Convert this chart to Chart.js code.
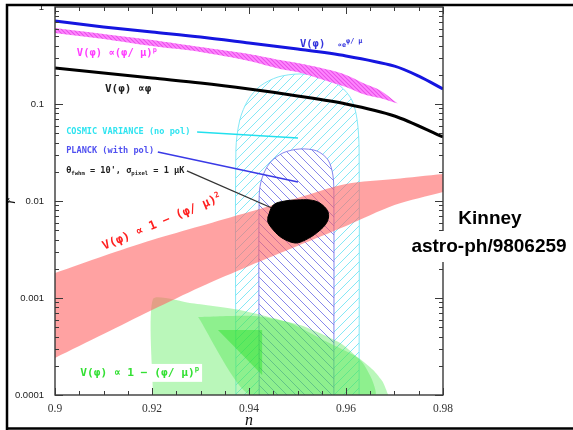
<!DOCTYPE html>
<html>
<head>
<meta charset="utf-8">
<script src="https://cdn.jsdelivr.net/npm/chart.js@4.4.1/dist/chart.umd.min.js"></script>
<style>
html,body{margin:0;padding:0;background:#fff;overflow:hidden;}
canvas{display:block;}
</style>
</head>
<body>
<canvas id="c" width="573" height="430"></canvas>
<script>
// ---------- values ----------
const X_TICKS = [0.90, 0.92, 0.94, 0.96, 0.98];
const X_TICK_LABELS = ['0.9', '0.92', '0.94', '0.96', '0.98'];
const Y_TICKS = [0.0001, 0.001, 0.01, 0.1, 1];
const Y_TICK_LABELS = ['0.0001', '0.001', '0.01', '0.1', '1'];

// V(phi) ~ exp(phi/mu)
const EXP_N = [0.90, 0.91, 0.92, 0.93, 0.94, 0.95, 0.96, 0.97, 0.975, 0.98];
const EXP_R = [0.717, 0.622, 0.552, 0.491, 0.426, 0.369, 0.313, 0.246, 0.194, 0.143];

// V(phi) ~ phi
const PHI_N = [0.90, 0.91, 0.92, 0.93, 0.94, 0.95, 0.96, 0.97, 0.98];
const PHI_R = [0.235, 0.209, 0.185, 0.165, 0.143, 0.121, 0.100, 0.0752, 0.0457];

// V(phi) ~ (phi/mu)^p band
const POW_N    = [0.90, 0.91, 0.92, 0.93, 0.94, 0.9464, 0.95, 0.9567, 0.96, 0.9635, 0.967, 0.9707];
const POW_R_HI = [0.608, 0.527, 0.457, 0.387, 0.328, 0.284, 0.265, 0.224, 0.199, 0.165, 0.139, 0.101];
const POW_R_LO = [0.539, 0.468, 0.396, 0.344, 0.278, 0.230, 0.214, 0.169, 0.150, 0.127, 0.115, 0.101];

// V(phi) ~ 1 - (phi/mu)^2 band
const QUAD_N    = [0.90, 0.91, 0.92, 0.93, 0.94, 0.95, 0.96, 0.97, 0.98];
const QUAD_R_HI = [0.00181, 0.00271, 0.00396, 0.00552, 0.00770, 0.01074, 0.01497, 0.01686, 0.01898];
const QUAD_R_LO = [0.000241, 0.000425, 0.000752, 0.00130, 0.00214, 0.00344, 0.00552, 0.00909, 0.01239];

// Cosmic variance (no pol) region outline
const CV_N = [0.9373, 0.9373, 0.9381, 0.9398, 0.9423, 0.9460, 0.9505, 0.9551, 0.9588, 0.9612, 0.9623, 0.9627, 0.9627];
const CV_R = [0.0001, 0.0336, 0.0684, 0.110, 0.153, 0.190, 0.204, 0.190, 0.153, 0.110, 0.0684, 0.0336, 0.0001];

// Planck (with pol) region outline
const PL_N = [0.9421, 0.9421, 0.9427, 0.9443, 0.9470, 0.9505, 0.9540, 0.9563, 0.9573, 0.9575, 0.9575];
const PL_R = [0.0001, 0.0115, 0.0173, 0.0247, 0.0313, 0.0344, 0.0328, 0.0265, 0.0185, 0.0115, 0.0001];

// theta_fwhm = 10', sigma = 1 muK region (black)
const BLOB_N = [0.9439, 0.9450, 0.9474, 0.9499, 0.9526, 0.9546, 0.9563, 0.9561, 0.9542, 0.9516, 0.9495, 0.9468, 0.9450, 0.9439];
const BLOB_R = [0.00684, 0.00909, 0.0100, 0.01024, 0.01024, 0.00953, 0.00770, 0.00608, 0.00479, 0.00396, 0.00369, 0.00416, 0.00503, 0.00608];

// V(phi) ~ 1 - (phi/mu)^p regions (green)
const GREEN_A_N = [0.9202, 0.9202, 0.9278, 0.9381, 0.9485, 0.9553, 0.9623, 0.9656, 0.9676, 0.9687];
const GREEN_A_R = [0.0001, 0.000977, 0.000888, 0.000752, 0.000552, 0.000369, 0.000246, 0.000181, 0.000136, 0.0001];
const GREEN_B_N = [0.9295, 0.9412, 0.9505, 0.9588, 0.9633, 0.9654, 0.9660, 0.9402, 0.9295];
const GREEN_B_R = [0.000637, 0.000652, 0.000527, 0.000344, 0.000219, 0.000143, 0.0001, 0.0001, 0.000637];
const GREEN_C_N = [0.9336, 0.9427, 0.9427, 0.9336];
const GREEN_C_R = [0.000468, 0.000468, 0.000161, 0.000468];

// pointer lines from the labels
const PTR_CV_N = [0.9293, 0.9501];  const PTR_CV_R = [0.0515, 0.0446];
const PTR_PL_N = [0.9212, 0.9501];  const PTR_PL_R = [0.0320, 0.0157];
const PTR_BK_N = [0.9272, 0.9447];  const PTR_BK_R = [0.0204, 0.00847];

// ---------- helpers ----------
const canvas = document.getElementById('c');
const ctx0 = canvas.getContext('2d');
const pts = (N, R) => N.map((n, i) => ({x: n, y: R[i]}));
const closed = a => a.concat([a[0]]);

function hatch(color, dir, gap, lw, bg) {
  const c = document.createElement('canvas');
  c.width = gap; c.height = gap;
  const g = c.getContext('2d');
  if (bg) { g.fillStyle = bg; g.fillRect(0, 0, gap, gap); }
  g.strokeStyle = color; g.lineWidth = lw;
  g.beginPath();
  if (dir > 0) {
    g.moveTo(-1, gap + 1); g.lineTo(gap + 1, -1);
    g.moveTo(-1, 1); g.lineTo(1, -1);
    g.moveTo(gap - 1, gap + 1); g.lineTo(gap + 1, gap - 1);
  } else {
    g.moveTo(-1, -1); g.lineTo(gap + 1, gap + 1);
    g.moveTo(gap - 1, -1); g.lineTo(gap + 1, 1);
    g.moveTo(-1, gap - 1); g.lineTo(1, gap + 1);
  }
  g.stroke();
  return ctx0.createPattern(c, 'repeat');
}

const cyanHatch = hatch('rgba(110,228,245,0.85)', 1, 9, 1);
const blueHatch = hatch('rgba(105,105,230,0.8)', -1, 9, 1, '#ffffff');
const magHatch  = hatch('rgba(232,80,232,1)', -1, 4, 1.1, 'rgba(255,135,255,1)');

const NONE = 'rgba(0,0,0,0)';
const datasets = [];
function add(o) {
  datasets.push(Object.assign({
    pointRadius: 0, pointHoverRadius: 0, tension: 0, fill: false,
    borderWidth: 0, borderColor: NONE, backgroundColor: NONE
  }, o));
}

// first added = drawn on top
add({ data: closed(pts(BLOB_N, BLOB_R)), fill: 'shape', backgroundColor: '#000', borderColor: '#000', borderWidth: 1, tension: 0.35 });
add({ data: pts(PTR_CV_N, PTR_CV_R), borderColor: '#22e0ee', borderWidth: 1.5 });
add({ data: pts(PTR_PL_N, PTR_PL_R), borderColor: '#3a3ae6', borderWidth: 1.5 });
add({ data: pts(PTR_BK_N, PTR_BK_R), borderColor: '#333', borderWidth: 1.3 });
add({ data: pts(EXP_N, EXP_R), borderColor: '#1515e0', borderWidth: 3, tension: 0.3 });
add({ data: pts(PHI_N, PHI_R), borderColor: '#000', borderWidth: 3, tension: 0.3 });
add({ data: pts(POW_N, POW_R_HI), fill: '+1', backgroundColor: magHatch, tension: 0.3 });
add({ data: pts(POW_N, POW_R_LO), tension: 0.3 });
add({ data: pts(QUAD_N, QUAD_R_HI), fill: '+1', backgroundColor: 'rgba(255,100,100,0.6)', tension: 0.3 });
add({ data: pts(QUAD_N, QUAD_R_LO), tension: 0.3 });
add({ data: pts(GREEN_C_N, GREEN_C_R), fill: 'shape', backgroundColor: 'rgba(40,225,40,0.45)' });
add({ data: pts(GREEN_B_N, GREEN_B_R), fill: 'shape', backgroundColor: 'rgba(70,230,70,0.38)', tension: 0.2 });
add({ data: pts(GREEN_A_N, GREEN_A_R), fill: 'shape', backgroundColor: 'rgba(90,235,90,0.42)', tension: 0.2 });
add({ data: pts(PL_N, PL_R), fill: 'shape', backgroundColor: blueHatch, borderColor: 'rgba(110,110,235,0.85)', borderWidth: 1, tension: 0.3 });
add({ data: pts(CV_N, CV_R), fill: 'shape', backgroundColor: cyanHatch, borderColor: 'rgba(110,228,245,0.85)', borderWidth: 1, tension: 0.3 });

// ---------- text helper ----------
const MONO = '"DejaVu Sans Mono", monospace';
function drawRuns(ctx, x0, y0, parts, size, color, opt) {
  opt = opt || {};
  const fontFor = p => 'bold ' + (p.s ? size * 0.65 : size) + 'px ' + MONO;
  let w = 0;
  for (const p of parts) { ctx.font = fontFor(p); w += ctx.measureText(p.t).width; }
  ctx.save();
  ctx.translate(x0, y0);
  if (opt.angle) ctx.rotate(opt.angle);
  if (opt.bg) { ctx.fillStyle = opt.bg; ctx.fillRect(-3, -size * 0.8, w + 6, size * 1.6); }
  ctx.fillStyle = color; ctx.textBaseline = 'middle'; ctx.textAlign = 'left';
  let cx = 0;
  for (const p of parts) {
    ctx.font = fontFor(p);
    const dy = p.s === 'sub' ? size * 0.35 : p.s === 'sup' ? -size * 0.3 : p.s === 'small' ? size * 0.15 : 0;
    ctx.fillText(p.t, cx, dy);
    cx += ctx.measureText(p.t).width;
  }
  ctx.restore();
}

const plot = {
  id: 'plotdeco',
  beforeDraw(chart) {
    const c = chart.ctx; c.save(); c.fillStyle = '#fff'; c.fillRect(0, 0, chart.width, chart.height); c.restore();
  },
  afterDatasetsDraw(chart) {
    const {ctx, chartArea: a, scales: {x, y}} = chart;
    ctx.save();
    // frame
    ctx.strokeStyle = '#3a3a3a'; ctx.lineWidth = 1.4;
    ctx.strokeRect(a.left, a.top, a.right - a.left, a.bottom - a.top);
    // inward ticks
    ctx.lineWidth = 1; ctx.beginPath();
    for (let k = 0; k <= 16; k++) {
      const px = Math.round(x.getPixelForValue(0.9 + k * 0.005)) + 0.5;
      const L = k % 4 === 0 ? 7 : 4;
      ctx.moveTo(px, a.bottom); ctx.lineTo(px, a.bottom - L);
      ctx.moveTo(px, a.top); ctx.lineTo(px, a.top + L);
    }
    for (let e = -4; e <= -1; e++) for (let m = 1; m <= 9; m++) {
      const py = Math.round(y.getPixelForValue(m * Math.pow(10, e))) + 0.5;
      const L = m === 1 ? 8 : 4;
      ctx.moveTo(a.left, py); ctx.lineTo(a.left + L, py);
      ctx.moveTo(a.right, py); ctx.lineTo(a.right - L, py);
    }
    ctx.stroke();

    const P = (n, r) => [x.getPixelForValue(n), y.getPixelForValue(r)];
    let p;
    p = P(0.9045, 0.336); drawRuns(ctx, p[0], p[1], [{t: 'V(φ) ∝(φ/ μ)'}, {t: 'p', s: 'sup'}], 10.5, '#ff3cff');
    p = P(0.9103, 0.143); drawRuns(ctx, p[0], p[1], [{t: 'V(φ) ∝φ'}], 11, '#222');
    p = P(0.9505, 0.415); drawRuns(ctx, p[0], p[1], [{t: 'V(φ)  '}, {t: '∝e', s: 'small'}, {t: 'φ/ μ', s: 'sup'}], 10.5, '#3333dd');
    p = P(0.9023, 0.0515); drawRuns(ctx, p[0], p[1], [{t: 'COSMIC VARIANCE (no pol)'}], 8.6, '#30e4f0');
    p = P(0.9023, 0.0328); drawRuns(ctx, p[0], p[1], [{t: 'PLANCK (with pol)'}], 8.6, '#5050f0');
    p = P(0.9023, 0.0204); drawRuns(ctx, p[0], p[1], [{t: 'θ'}, {t: 'fwhm', s: 'sub'}, {t: " = 10', σ"}, {t: 'pixel', s: 'sub'}, {t: ' = 1 μK'}], 8.6, '#222');
    p = P(0.9099, 0.00336); drawRuns(ctx, p[0], p[1], [{t: 'V(φ) ∝ 1 − (φ/ μ)'}, {t: '2', s: 'sup'}], 12, '#ff2020', {angle: -0.398});
    p = P(0.9052, 0.000169); drawRuns(ctx, p[0], p[1], [{t: 'V(φ) ∝ 1 − (φ/ μ)'}, {t: 'p', s: 'sup'}], 11.2, '#33e033', {bg: '#fff'});
    ctx.restore();
  },
  afterDraw(chart) {
    const ctx = chart.ctx;
    ctx.save();
    ctx.fillStyle = '#fff';
    ctx.fillRect(405, 231, 167, 31);
    ctx.fillStyle = '#000';
    ctx.font = 'bold 19px "Liberation Sans", Arial, sans-serif';
    ctx.textAlign = 'center'; ctx.textBaseline = 'middle';
    ctx.fillText('Kinney', 490, 219);
    ctx.fillText('astro-ph/9806259', 489, 247);
    // outer frame
    ctx.strokeStyle = '#000'; ctx.lineWidth = 2.5;
    ctx.beginPath();
    ctx.moveTo(7, 430); ctx.lineTo(7, 5); ctx.lineTo(573, 5);
    ctx.moveTo(6, 428.5); ctx.lineTo(573, 428.5);
    ctx.stroke();
    ctx.restore();
  }
};

new Chart(canvas, {
  type: 'line',
  data: { datasets },
  options: {
    responsive: false, devicePixelRatio: 1, animation: false, events: [],
    layout: { padding: { left: 0, top: 7, right: 130, bottom: 0 } },
    plugins: { legend: { display: false }, tooltip: { enabled: false } },
    scales: {
      x: {
        type: 'linear', min: 0.9, max: 0.98, position: 'bottom',
        grid: { display: false, drawTicks: false }, border: { display: false },
        afterBuildTicks: s => { s.ticks = X_TICKS.map(v => ({ value: v })); },
        afterFit: s => { s.height = 35; s.paddingLeft = 0; s.paddingRight = 0; },
        ticks: { autoSkip: false, maxRotation: 0, padding: 7, color: '#333',
          font: { family: '"Liberation Serif", serif', size: 11.5 },
          callback: (v, i) => X_TICK_LABELS[i] },
        title: { display: true, text: 'n', color: '#111',
          font: { family: '"Liberation Serif", serif', style: 'italic', size: 16 },
          padding: { top: 0, bottom: 0 } }
      },
      y: {
        type: 'logarithmic', min: 0.0001, max: 1, position: 'left',
        grid: { display: false, drawTicks: false }, border: { display: false },
        afterBuildTicks: s => { s.ticks = Y_TICKS.map(v => ({ value: v })); },
        afterFit: s => { s.width = 55; s.paddingTop = 0; s.paddingBottom = 0; },
        ticks: { autoSkip: false, padding: 11, color: '#222',
          font: { family: '"Liberation Sans", Arial, sans-serif', size: 9.5 },
          callback: (v, i) => Y_TICK_LABELS[i] },
        title: { display: true, text: 'r', color: '#111',
          font: { family: '"Liberation Serif", serif', style: 'italic', size: 14 },
          padding: { top: 3, bottom: 0 } }
      }
    }
  },
  plugins: [plot]
});
</script>
</body>
</html>
